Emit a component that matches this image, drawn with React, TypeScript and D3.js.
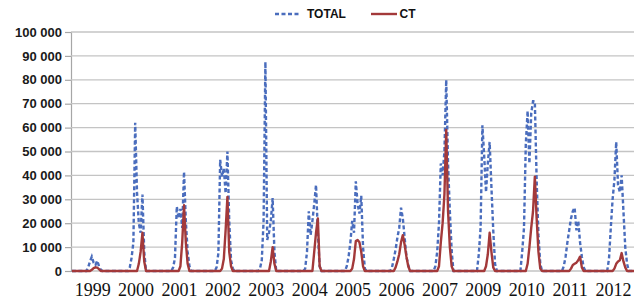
import React, { useEffect, useRef } from 'react';
import * as d3 from 'd3';

// years shown on the axis (2008 is not in the source)
const years = ['1999', '2000', '2001', '2002', '2003', '2004', '2005', '2006', '2007', '2009', '2010', '2011', '2012'];

// 24 samples per year (half-month steps)
const totalCases: number[][] = [
  [0, 0, 0, 0, 0, 0, 0, 0, 0, 1500, 4000, 6000, 3500, 2500, 4300, 2000, 500, 0, 0, 0, 0, 0, 0, 0],
  [0, 0, 0, 0, 0, 0, 0, 0, 1500, 5500, 12000, 62000, 33000, 20000, 16000, 32000, 8000, 0, 0, 0, 0, 0, 0, 0],
  [0, 0, 0, 0, 0, 0, 0, 0, 1500, 5500, 27000, 22000, 26000, 18000, 41500, 21000, 8000, 2000, 0, 0, 0, 0, 0, 0],
  [0, 0, 0, 0, 0, 0, 0, 0, 1500, 7500, 46500, 39500, 43000, 32500, 50000, 21000, 4500, 1000, 0, 0, 0, 0, 0, 0],
  [0, 0, 0, 0, 0, 0, 0, 0, 1000, 4500, 21000, 87500, 13000, 16000, 21000, 30500, 8000, 0, 0, 0, 0, 0, 0, 0],
  [0, 0, 0, 0, 0, 0, 0, 0, 0, 1000, 8000, 25000, 15000, 21000, 28000, 36000, 16000, 2000, 0, 0, 0, 0, 0, 0],
  [0, 0, 0, 0, 0, 0, 0, 0, 2000, 6000, 12000, 21000, 16000, 37500, 28000, 24000, 31500, 10000, 1000, 0, 0, 0, 0, 0],
  [0, 0, 0, 0, 0, 0, 0, 0, 0, 1500, 5000, 9000, 14000, 18000, 26500, 22000, 14000, 6000, 2500, 0, 0, 0, 0, 0],
  [0, 0, 0, 0, 0, 0, 0, 0, 0, 2000, 8000, 20000, 45000, 40000, 50000, 80000, 45000, 25000, 8500, 0, 0, 0, 0, 0],
  [0, 0, 0, 0, 0, 0, 0, 0, 0, 7000, 18000, 61000, 48000, 33000, 45000, 54000, 35000, 17000, 3000, 0, 0, 0, 0, 0],
  [0, 0, 0, 0, 0, 0, 0, 0, 0, 8000, 18000, 53000, 67000, 45000, 66000, 71000, 71000, 38000, 15000, 3000, 0, 0, 0, 0],
  [0, 0, 0, 0, 0, 0, 0, 0, 2000, 6000, 12000, 17000, 22000, 25000, 26500, 17000, 21000, 12000, 6000, 1500, 0, 0, 0, 0],
  [0, 0, 0, 0, 0, 0, 0, 0, 0, 5000, 18000, 30000, 38000, 54000, 36000, 33000, 40000, 25000, 10000, 3000, 0, 0, 0, 0],
];

const ctCases: number[][] = [
  [0, 0, 0, 0, 0, 0, 0, 0, 0, 0, 0, 500, 1200, 1500, 1400, 800, 0, 0, 0, 0, 0, 0, 0, 0],
  [0, 0, 0, 0, 0, 0, 0, 0, 0, 0, 0, 0, 0, 3000, 8000, 16000, 4000, 0, 0, 0, 0, 0, 0, 0],
  [0, 0, 0, 0, 0, 0, 0, 0, 0, 0, 0, 0, 2000, 12000, 27500, 12000, 3000, 0, 0, 0, 0, 0, 0, 0],
  [0, 0, 0, 0, 0, 0, 0, 0, 0, 0, 0, 1000, 5000, 17000, 31000, 8000, 2000, 0, 0, 0, 0, 0, 0, 0],
  [0, 0, 0, 0, 0, 0, 0, 0, 0, 0, 0, 0, 0, 0, 4000, 10000, 3000, 0, 0, 0, 0, 0, 0, 0],
  [0, 0, 0, 0, 0, 0, 0, 0, 0, 0, 0, 0, 0, 0, 8000, 16000, 22000, 2000, 0, 0, 0, 0, 0, 0],
  [0, 0, 0, 0, 0, 0, 0, 0, 0, 0, 0, 1000, 5000, 12500, 13000, 12000, 8000, 2000, 0, 0, 0, 0, 0, 0],
  [0, 0, 0, 0, 0, 0, 0, 0, 0, 0, 0, 1500, 4000, 7000, 12000, 15000, 11000, 6000, 2000, 0, 0, 0, 0, 0],
  [0, 0, 0, 0, 0, 0, 0, 0, 0, 0, 0, 2000, 12000, 20000, 32000, 59000, 25000, 10000, 2000, 0, 0, 0, 0, 0],
  [0, 0, 0, 0, 0, 0, 0, 0, 0, 0, 0, 0, 0, 2000, 7000, 16000, 8000, 1500, 0, 0, 0, 0, 0, 0],
  [0, 0, 0, 0, 0, 0, 0, 0, 0, 0, 0, 0, 3000, 10000, 18000, 25000, 39500, 22000, 8000, 1000, 0, 0, 0, 0],
  [0, 0, 0, 0, 0, 0, 0, 0, 0, 0, 0, 0, 1000, 2500, 3000, 3500, 4500, 6000, 1500, 0, 0, 0, 0, 0],
  [0, 0, 0, 0, 0, 0, 0, 0, 0, 0, 0, 0, 1000, 3000, 4000, 4500, 7500, 4000, 1500, 0, 0, 0, 0, 0],
];

const yTicks = [0, 10000, 20000, 30000, 40000, 50000, 60000, 70000, 80000, 90000, 100000];

interface Point {
  year: string;
  step: number;
  value: number;
}

const flatten = (rows: number[][]): Point[] =>
  rows.flatMap((row, i) => row.map((value, step) => ({ year: years[i], step, value })));

const width = 634;
const height = 303;
const TOTAL_COLOR = '#4a6dbd';
const CT_COLOR = '#a3393a';

const App: React.FC = () => {
  const svgRef = useRef<SVGSVGElement>(null);

  useEffect(() => {
    if (!svgRef.current) return;
    const svg = d3.select(svgRef.current);
    svg.selectAll('*').remove();

    const margin = { top: 32, right: 0, bottom: 32, left: 71 };

    const xBand = d3.scaleBand<string>()
      .domain(years)
      .range([margin.left, width + 1.2])
      .padding(0);
    const xStep = d3.scaleLinear().domain([0, 24]).range([0, xBand.bandwidth()]);
    const y = d3.scaleLinear().domain([0, 100000]).range([height - margin.bottom - 0, margin.top]);

    const xOf = (d: Point) => (xBand(d.year) as number) + xStep(d.step + 0.5);

    svg.append('rect').attr('width', width).attr('height', height).attr('fill', '#ffffff');

    // grid + left ticks
    const yAxis = svg.append('g')
      .attr('transform', `translate(${margin.left},0)`)
      .call(d3.axisLeft(y).tickValues(yTicks).tickSize(6).tickPadding(3)
        .tickFormat(d => d3.format(',')(d as number).replace(/,/g, ' ')));
    yAxis.select('.domain').attr('stroke', '#a6a6a6').attr('stroke-width', 1.2);
    yAxis.selectAll('.tick line').attr('stroke', '#a6a6a6').attr('stroke-width', 1.2);
    yAxis.selectAll('.tick text')
      .attr('fill', '#1a1a1a')
      .style('font-family', '"Liberation Sans", Arial, sans-serif')
      .style('font-weight', 'bold')
      .style('font-size', '13px');

    svg.append('g')
      .selectAll('line')
      .data(yTicks.filter(t => t > 0))
      .enter().append('line')
      .attr('x1', margin.left)
      .attr('x2', width)
      .attr('y1', d => y(d))
      .attr('y2', d => y(d))
      .attr('stroke', '#c4c4c4')
      .attr('stroke-width', 1.3);

    svg.append('line')
      .attr('x1', margin.left).attr('x2', width)
      .attr('y1', y(0)).attr('y2', y(0))
      .attr('stroke', '#a6a6a6').attr('stroke-width', 1.2);

    // x labels
    svg.append('g')
      .selectAll('text')
      .data(years)
      .enter().append('text')
      .attr('x', d => (xBand(d) as number) + xBand.bandwidth() / 2)
      .attr('y', 296)
      .attr('text-anchor', 'middle')
      .style('font-family', '"Liberation Serif", "Times New Roman", serif')
      .style('font-size', '18px')
      .attr('fill', '#111')
      .text(d => d);

    const line = d3.line<Point>()
      .x(xOf)
      .y(d => y(d.value));

    svg.append('path')
      .datum(flatten(totalCases))
      .attr('fill', 'none')
      .attr('stroke', TOTAL_COLOR)
      .attr('stroke-width', 2.4)
      .attr('stroke-dasharray', '4,2.5')
      .attr('d', line);

    svg.append('path')
      .datum(flatten(ctCases))
      .attr('fill', 'none')
      .attr('stroke', CT_COLOR)
      .attr('stroke-width', 2.4)
      .attr('stroke-linejoin', 'round')
      .attr('d', line);

    // legend
    const legend = svg.append('g').style('font-family', '"Liberation Sans", Arial, sans-serif')
      .style('font-weight', 'bold').style('font-size', '12px');
    legend.append('line')
      .attr('x1', 275).attr('x2', 299).attr('y1', 14).attr('y2', 14)
      .attr('stroke', TOTAL_COLOR).attr('stroke-width', 2.4).attr('stroke-dasharray', '4,2.5');
    legend.append('text').attr('x', 307).attr('y', 18).attr('fill', '#111').text('TOTAL');
    legend.append('line')
      .attr('x1', 371).attr('x2', 397).attr('y1', 14).attr('y2', 14)
      .attr('stroke', CT_COLOR).attr('stroke-width', 2.4);
    legend.append('text').attr('x', 399.5).attr('y', 18).attr('fill', '#111').text('CT');
  }, []);

  return (
    <svg
      ref={svgRef}
      width={width}
      height={height}
      style={{ display: 'block', position: 'absolute', left: 0, top: 0 }}
    />
  );
};

export default App;
